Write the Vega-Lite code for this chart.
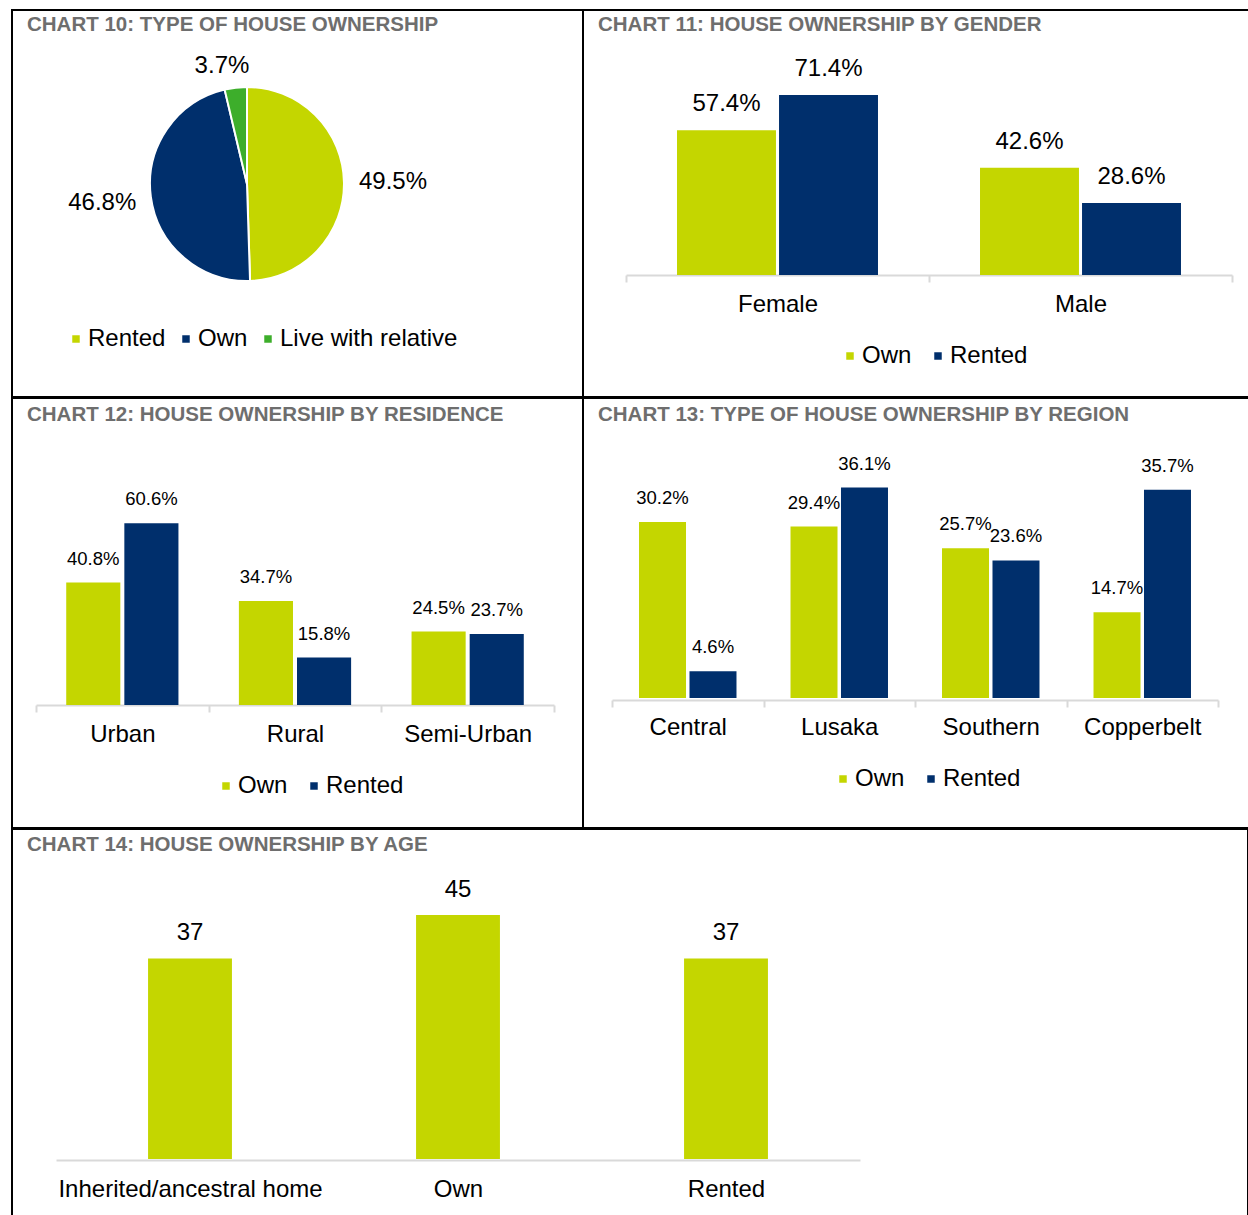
{
  "$schema": "https://vega.github.io/schema/vega-lite/v6.json",
  "padding": {"left": 11, "top": 9, "right": 0, "bottom": 0},
  "spacing": -2,
  "config": {
    "font": "Liberation Sans",
    "view": {"stroke": "black", "strokeWidth": 2},
    "title": {"anchor": "start", "frame": "group", "fontSize": 20.5, "fontWeight": "bold", "color": "#6E6E6E", "offset": -25, "baseline": "middle", "dx": 15},
    "legend": {"orient": "none", "direction": "horizontal", "title": null, "symbolType": "square", "symbolSize": 56, "labelFontSize": 24, "labelColor": "black", "labelOffset": 0, "labelLimit": 0, "columnPadding": 14, "symbolStrokeWidth": 0},
    "axisX": {"title": null, "domainColor": "#D9D9D9", "domainWidth": 2, "tickColor": "#D9D9D9", "tickWidth": 2, "tickSize": 7, "tickBand": "extent", "labelFontSize": 24, "labelColor": "black", "labelBaseline": "middle", "labelAngle": 0, "labelLimit": 0, "grid": false},
    "text": {"color": "black"}
  },
  "resolve": {"scale": {"color": "independent", "x": "independent", "y": "independent", "xOffset": "independent"}, "legend": {"color": "independent"}},
  "vconcat": [
    {
      "hconcat": [
        {
          "width": 571, "height": 387,
          "title": {"text": "CHART 10: TYPE OF HOUSE OWNERSHIP"},
          "data": {"values": [
            {"cat": "Rented", "v": 0.495, "o": 1},
            {"cat": "Own", "v": 0.468, "o": 2},
            {"cat": "Live with relative", "v": 0.037, "o": 3}
          ]},
          "encoding": {
            "theta": {"field": "v", "type": "quantitative", "stack": true},
            "order": {"field": "o", "type": "quantitative"},
            "detail": {"field": "cat", "type": "nominal"},
            "x": {"value": 235},
            "y": {"value": 174}
          },
          "layer": [
            {
              "mark": {"type": "arc", "outerRadius": 97, "stroke": "white", "strokeWidth": 2},
              "encoding": {
                "color": {"field": "cat", "type": "nominal",
                  "scale": {"domain": ["Rented", "Own", "Live with relative"], "range": ["#C4D600", "#002F6C", "#3DAE2B"]},
                  "legend": {"legendX": 52, "legendY": 317, "columnPadding": 8}}
              }
            },
            {
              "mark": {"type": "text", "radius": 146, "fontSize": 24},
              "encoding": {"text": {"condition": {"test": "datum.cat !== 'Live with relative'", "field": "v", "type": "quantitative", "format": ".1%"}, "value": ""}}
            },
            {
              "mark": {"type": "text", "radius": 121, "dx": -11, "dy": 2, "fontSize": 24},
              "encoding": {"text": {"condition": {"test": "datum.cat === 'Live with relative'", "field": "v", "type": "quantitative", "format": ".1%"}, "value": ""}}
            }
          ]
        },
        {
          "width": 666, "height": 387,
          "title": {"text": "CHART 11: HOUSE OWNERSHIP BY GENDER"},
          "data": {"values": [
            {"g": "Female", "s": "Own", "v": 0.574},
            {"g": "Female", "s": "Rented", "v": 0.714},
            {"g": "Male", "s": "Own", "v": 0.426},
            {"g": "Male", "s": "Rented", "v": 0.286}
          ]},
          "encoding": {
            "x": {"field": "g", "type": "nominal", "sort": ["Female", "Male"],
              "scale": {"range": [43, 649], "paddingInner": 0, "paddingOuter": 0},
              "axis": {"offset": -122, "labelPadding": 22}},
            "xOffset": {"field": "s", "type": "nominal", "sort": ["Own", "Rented"], "scale": {"paddingInner": 0.03, "paddingOuter": 0.5}},
            "y": {"field": "v", "type": "quantitative", "scale": {"domain": [0, 1], "range": [265, 13], "nice": false}, "axis": null}
          },
          "layer": [
            {
              "mark": {"type": "bar"},
              "encoding": {
                "color": {"field": "s", "type": "nominal", "scale": {"domain": ["Own", "Rented"], "range": ["#C4D600", "#002F6C"]},
                  "legend": {"legendX": 255, "legendY": 334}}
              }
            },
            {
              "mark": {"type": "text", "dy": -26, "fontSize": 24},
              "encoding": {"text": {"field": "v", "type": "quantitative", "format": ".1%"}}
            }
          ]
        }
      ],
      "spacing": 0,
      "bounds": "flush",
      "resolve": {"scale": {"color": "independent", "x": "independent", "y": "independent", "xOffset": "independent"}, "legend": {"color": "independent"}}
    },
    {
      "hconcat": [
        {
          "width": 571, "height": 430,
          "title": {"text": "CHART 12: HOUSE OWNERSHIP BY RESIDENCE", "offset": -27},
          "data": {"values": [
            {"r": "Urban", "s": "Own", "v": 0.408},
            {"r": "Urban", "s": "Rented", "v": 0.606},
            {"r": "Rural", "s": "Own", "v": 0.347},
            {"r": "Rural", "s": "Rented", "v": 0.158},
            {"r": "Semi-Urban", "s": "Own", "v": 0.245},
            {"r": "Semi-Urban", "s": "Rented", "v": 0.237}
          ]},
          "encoding": {
            "x": {"field": "r", "type": "nominal", "sort": ["Urban", "Rural", "Semi-Urban"],
              "scale": {"range": [24, 542], "paddingInner": 0, "paddingOuter": 0},
              "axis": {"offset": -123, "labelPadding": 22}},
            "xOffset": {"field": "s", "type": "nominal", "sort": ["Own", "Rented"], "scale": {"paddingInner": 0.069, "paddingOuter": 0.52}},
            "y": {"field": "v", "type": "quantitative", "scale": {"domain": [0, 1], "range": [307, 7], "nice": false}, "axis": null}
          },
          "layer": [
            {
              "mark": {"type": "bar"},
              "encoding": {
                "color": {"field": "s", "type": "nominal", "scale": {"domain": ["Own", "Rented"], "range": ["#C4D600", "#002F6C"]},
                  "legend": {"legendX": 202, "legendY": 376}}
              }
            },
            {
              "mark": {"type": "text", "dy": -24, "fontSize": 18.5},
              "encoding": {"text": {"field": "v", "type": "quantitative", "format": ".1%"}}
            }
          ]
        },
        {
          "width": 666, "height": 430,
          "title": {"text": "CHART 13: TYPE OF HOUSE OWNERSHIP BY REGION", "offset": -27},
          "data": {"values": [
            {"p": "Central", "s": "Own", "v": 0.302},
            {"p": "Central", "s": "Rented", "v": 0.046},
            {"p": "Lusaka", "s": "Own", "v": 0.294},
            {"p": "Lusaka", "s": "Rented", "v": 0.361},
            {"p": "Southern", "s": "Own", "v": 0.257},
            {"p": "Southern", "s": "Rented", "v": 0.236},
            {"p": "Copperbelt", "s": "Own", "v": 0.147},
            {"p": "Copperbelt", "s": "Rented", "v": 0.357}
          ]},
          "encoding": {
            "x": {"field": "p", "type": "nominal", "sort": ["Central", "Lusaka", "Southern", "Copperbelt"],
              "scale": {"range": [29, 635], "paddingInner": 0, "paddingOuter": 0},
              "axis": {"offset": -128, "labelPadding": 20}},
            "xOffset": {"field": "s", "type": "nominal", "sort": ["Own", "Rented"], "scale": {"paddingInner": 0.069, "paddingOuter": 0.535}},
            "y": {"field": "v", "type": "quantitative", "scale": {"domain": [0, 0.5], "range": [300, 8.5], "nice": false}, "axis": null}
          },
          "layer": [
            {
              "mark": {"type": "bar"},
              "encoding": {
                "color": {"field": "s", "type": "nominal", "scale": {"domain": ["Own", "Rented"], "range": ["#C4D600", "#002F6C"]},
                  "legend": {"legendX": 248, "legendY": 369}}
              }
            },
            {
              "mark": {"type": "text", "dy": -24, "fontSize": 18.5},
              "encoding": {"text": {"field": "v", "type": "quantitative", "format": ".1%"}}
            }
          ]
        }
      ],
      "spacing": 0,
      "bounds": "flush",
      "resolve": {"scale": {"color": "independent", "x": "independent", "y": "independent", "xOffset": "independent"}, "legend": {"color": "independent"}}
    },
    {
      "width": 1236, "height": 389,
      "title": {"text": "CHART 14: HOUSE OWNERSHIP BY AGE", "offset": -26},
      "data": {"values": [
        {"a": "Inherited/ancestral home", "v": 37},
        {"a": "Own", "v": 45},
        {"a": "Rented", "v": 37}
      ]},
      "encoding": {
        "x": {"field": "a", "type": "nominal", "sort": ["Inherited/ancestral home", "Own", "Rented"],
          "scale": {"range": [44, 848], "paddingInner": 0.687, "paddingOuter": 0.3435},
          "axis": {"offset": -58, "labelPadding": 29, "ticks": false}},
        "y": {"field": "v", "type": "quantitative", "scale": {"domain": [0, 50], "range": [330, 59], "nice": false}, "axis": null}
      },
      "layer": [
        {"mark": {"type": "bar", "color": "#C4D600"}},
        {
          "mark": {"type": "text", "dy": -25, "fontSize": 24},
          "encoding": {"text": {"field": "v", "type": "quantitative"}}
        }
      ]
    }
  ]
}
